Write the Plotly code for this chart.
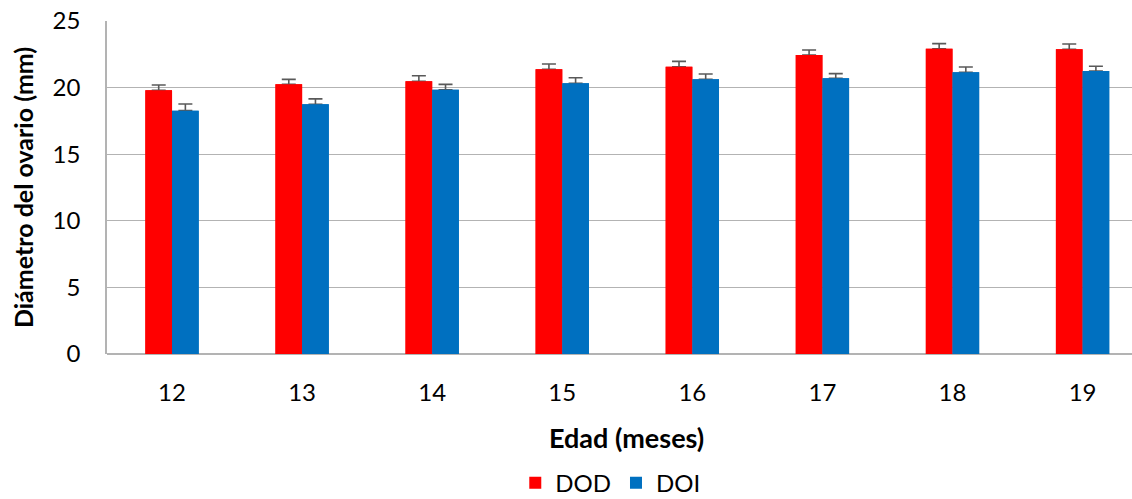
import plotly.graph_objects as go

categories = ["12", "13", "14", "15", "16", "17", "18", "19"]
dod = [19.8, 20.25, 20.47, 21.37, 21.57, 22.45, 22.92, 22.87]
doi = [18.27, 18.75, 19.84, 20.32, 20.62, 20.7, 21.15, 21.25]
dod_err = [0.4, 0.37, 0.42, 0.4, 0.4, 0.37, 0.38, 0.4]
doi_err = [0.5, 0.4, 0.4, 0.42, 0.4, 0.35, 0.4, 0.35]
zeros = [0] * len(categories)

RED = "#ff0000"
BLUE = "#0070c0"
ERR = "#595959"
FONT = "Lato"

fig = go.Figure()
# bars with error bars
fig.add_trace(go.Bar(x=categories, y=dod, name="DOD", marker=dict(color=RED, line=dict(width=0)),
                     offsetgroup="a",
                     error_y=dict(type="data", array=dod_err, arrayminus=zeros, symmetric=False,
                                  color=ERR, thickness=1.6, width=7)))
fig.add_trace(go.Bar(x=categories, y=doi, name="DOI", marker=dict(color=BLUE, line=dict(width=0)),
                     offsetgroup="b",
                     error_y=dict(type="data", array=doi_err, arrayminus=zeros, symmetric=False,
                                  color=ERR, thickness=1.6, width=7)))
# cover bars (hide lower caps)
fig.add_trace(go.Bar(x=categories, y=dod, marker=dict(color=RED, line=dict(width=0)),
                     offsetgroup="a", showlegend=False, hoverinfo="skip"))
fig.add_trace(go.Bar(x=categories, y=doi, marker=dict(color=BLUE, line=dict(width=0)),
                     offsetgroup="b", showlegend=False, hoverinfo="skip"))

fig.update_layout(
    width=1132, height=499,
    margin=dict(l=107, r=0, t=21, b=145, autoexpand=False),
    paper_bgcolor="white", plot_bgcolor="white",
    barmode="group", bargap=0.59, bargroupgap=0,
    font=dict(family=FONT, size=24, color="black"),
    showlegend=True,
    legend=dict(orientation="h", x=0.491, xanchor="center",
                yref="container", y=0.032, yanchor="middle",
                font=dict(size=24), itemwidth=30, traceorder="normal"),
    annotations=[
        dict(text="<b>Edad (meses)</b>", xref="paper", yref="paper", x=0.507, y=-0.25,
             xanchor="center", yanchor="middle", showarrow=False, font=dict(size=27)),
        dict(text="<b>Diámetro del ovario (mm)</b>", xref="paper", yref="paper",
             x=-0.0824, y=0.5, xanchor="center", yanchor="middle", textangle=-90,
             showarrow=False, font=dict(size=25)),
    ],
)
fig.update_xaxes(
    type="category", range=[-0.5, 7.38], automargin=False,
    showline=False, showgrid=False, ticks="", ticklabelstandoff=22,
    tickfont=dict(size=24),
)
fig.update_yaxes(
    range=[0, 25], dtick=5, tick0=0, automargin=False,
    showgrid=True, gridcolor="#b3b3b3", gridwidth=1,
    showline=True, linecolor="#b3b3b3", linewidth=1.5,
    zeroline=True, zerolinecolor="#b3b3b3", zerolinewidth=1.5,
    ticks="", ticklabelstandoff=20, tickfont=dict(size=24),
)

fig.write_html("out.html", config={"displayModeBar": False},
               post_script="document.body.style.margin='0';document.body.style.overflow='hidden';")
